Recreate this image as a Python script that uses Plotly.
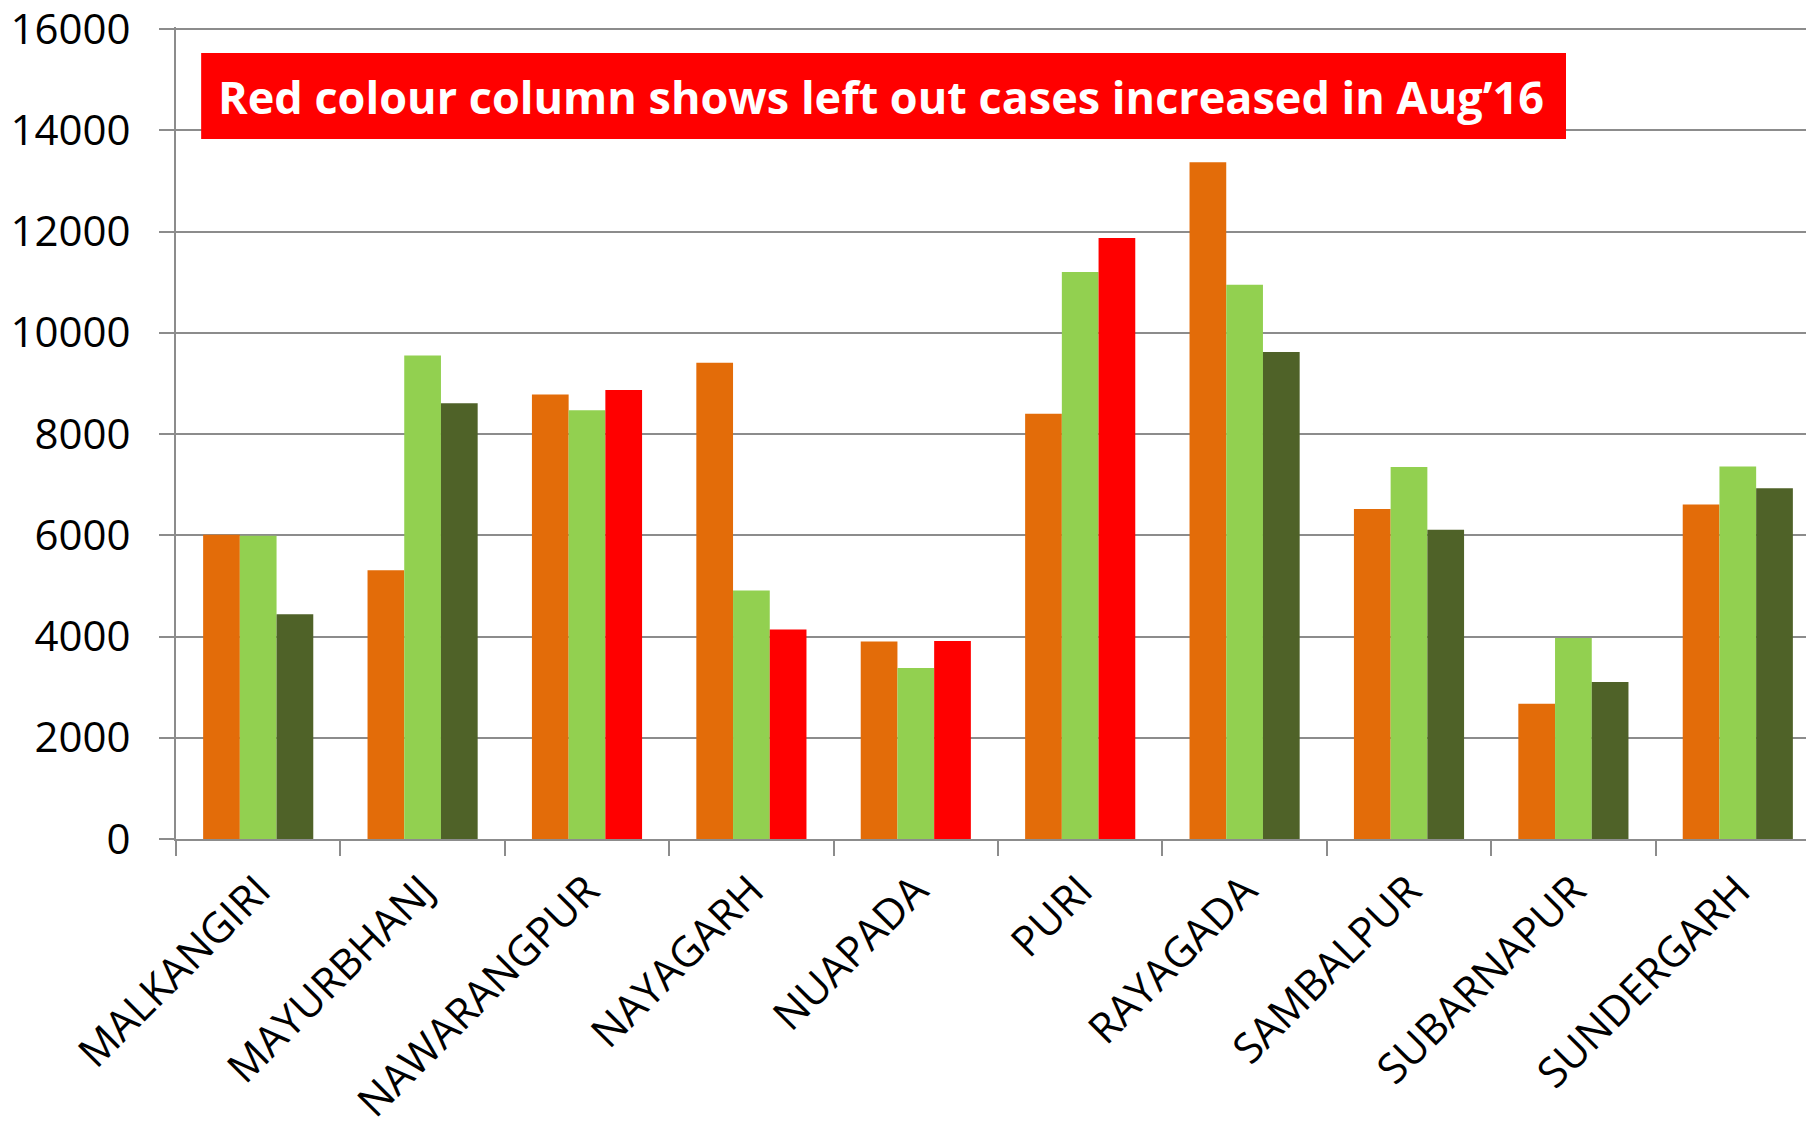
import plotly.graph_objects as go

districts = ["MALKANGIRI", "MAYURBHANJ", "NAWARANGPUR", "NAYAGARH", "NUAPADA",
             "PURI", "RAYAGADA", "SAMBALPUR", "SUBARNAPUR", "SUNDERGARH"]
month1 = [6010, 5310, 8780, 9410, 3900, 8400, 13370, 6520, 2670, 6610]
month2 = [5990, 9550, 8470, 4910, 3380, 11200, 10950, 7350, 3970, 7360]
month3 = [4440, 8610, 8870, 4140, 3910, 11870, 9620, 6110, 3100, 6930]
increased = ["NAWARANGPUR", "NAYAGARH", "NUAPADA", "PURI"]
y_ticks = [0, 2000, 4000, 6000, 8000, 10000, 12000, 14000, 16000]
note = "Red colour column shows left out cases increased in Aug\u201916"

ORANGE = "#E36C09"
LIGHT_GREEN = "#92D050"
DARK_GREEN = "#4F6228"
RED = "#FF0000"
GRID = "#8C8C8C"

month3_colors = [RED if d in increased else DARK_GREEN for d in districts]

fig = go.Figure()
fig.add_trace(go.Bar(x=districts, y=month1, name="Month 1",
                     marker=dict(color=ORANGE, line=dict(width=0))))
fig.add_trace(go.Bar(x=districts, y=month2, name="Month 2",
                     marker=dict(color=LIGHT_GREEN, line=dict(width=0))))
fig.add_trace(go.Bar(x=districts, y=month3, name="Aug'16",
                     marker=dict(color=month3_colors, line=dict(width=0))))

# red note box sits over the top of the plot area
fig.add_shape(type="rect", xref="paper", yref="paper",
              x0=0.0153, x1=0.8455, y0=0.862, y1=0.968,
              fillcolor=RED, line=dict(width=0), layer="above")
fig.add_annotation(xref="paper", yref="paper", x=0.4290, y=0.915,
                   text=f"<b>{note}</b>", showarrow=False,
                   font=dict(family="Open Sans", size=45, color="white"),
                   xanchor="center", yanchor="middle")

# page body adds an 8px offset, margins compensate for it
fig.update_layout(
    width=1814, height=1129,
    margin=dict(l=168, r=2, t=19, b=298),
    paper_bgcolor="white", plot_bgcolor="white",
    barmode="group", bargap=0.33, bargroupgap=0,
    showlegend=False,
    font=dict(family="Open Sans", color="black"),
)

fig.update_xaxes(
    automargin=False,
    showline=True, linecolor=GRID, linewidth=2,
    ticks="outside", tickson="boundaries", ticklen=15, tickcolor=GRID, tickwidth=2,
    tickangle=-45, tickfont=dict(size=42, color="black"),
    ticklabelstandoff=8, ticklabeloverflow="allow",
    showgrid=False,
)
fig.update_yaxes(
    automargin=False,
    range=[0, 16040], tickvals=y_ticks, ticktext=[str(v) for v in y_ticks],
    showline=True, linecolor=GRID, linewidth=2,
    showgrid=True, gridcolor=GRID, gridwidth=2,
    ticks="outside", ticklen=15, tickcolor=GRID, tickwidth=2,
    tickfont=dict(size=42, color="black"),
    ticklabelstandoff=20, ticklabeloverflow="allow",
    zeroline=False,
)

fig.write_html("out.html")
